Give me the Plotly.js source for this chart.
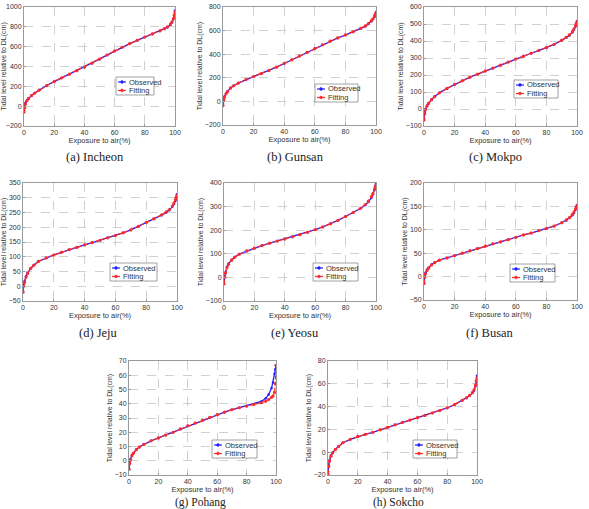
<!DOCTYPE html>
<html>
<head>
<meta charset="utf-8">
<script src="https://cdn.plot.ly/plotly-3.0.1.min.js"></script>
<style>
  html, body { margin: 0; padding: 0; background: #ffffff; }
  #chart { width: 589px; height: 509px; }
</style>
</head>
<body>
<div id="chart"></div>
<script>
// Exposure to air (%) shared by every station
const exposure = [0, 0.5, 1, 2, 3, 5, 7, 10, 15, 20, 25, 30, 35, 40, 45, 50, 55, 60, 65, 70, 75, 80, 85, 90, 93, 95, 97, 98, 99, 99.5, 100];

// Tidal level relative to DL (cm): observed and fitted curves per station
const obsIncheon = [-40, 5, 35, 62, 80, 108, 132, 162, 208, 248, 285, 322, 357, 393, 433, 474, 515, 556, 594, 630, 664, 697, 727, 757, 778, 795, 822, 843, 880, 915, 965];
const fitIncheon = [-60, -15, 22, 55, 76, 106, 130, 161, 207, 248, 286, 323, 358, 394, 434, 475, 516, 556, 594, 630, 664, 697, 728, 760, 782, 800, 828, 850, 885, 915, 950];

const obsGunsan = [-20, 20, 42, 68, 85, 115, 133, 155, 183, 210, 234, 260, 290, 321, 352, 384, 416, 448, 481, 512, 538, 562, 588, 616, 636, 656, 680, 696, 718, 735, 757];
const fitGunsan = [-35, 10, 36, 64, 83, 113, 132, 155, 184, 211, 235, 261, 290, 321, 352, 384, 416, 448, 480, 511, 538, 563, 590, 619, 640, 660, 684, 700, 722, 738, 750];

const obsMokpo = [-55, -20, 0, 20, 35, 57, 74, 95, 121, 144, 166, 187, 205, 223, 240, 258, 276, 294, 311, 328, 344, 360, 380, 403, 420, 433, 452, 466, 485, 500, 518];
const fitMokpo = [-65, -28, -5, 17, 33, 55, 73, 94, 121, 144, 166, 187, 205, 223, 241, 258, 276, 294, 311, 328, 344, 361, 381, 405, 422, 436, 455, 470, 490, 503, 512];

const obsJeju = [-15, 5, 17, 34, 45, 61, 72, 84, 96, 106, 115, 124, 132, 140, 148, 156, 164, 172, 181, 191, 203, 216, 228, 241, 250, 258, 270, 279, 290, 299, 312];
const fitJeju = [-20, 0, 13, 31, 43, 60, 71, 84, 96, 106, 115, 124, 132, 140, 148, 156, 164, 172, 181, 191, 203, 216, 229, 242, 252, 260, 272, 282, 294, 302, 308];

const obsYeosu = [-20, 5, 22, 45, 58, 74, 86, 99, 112, 124, 135, 145, 154, 163, 172, 181, 191, 202, 214, 227, 242, 258, 274, 293, 307, 320, 338, 352, 370, 382, 395];
const fitYeosu = [-28, 0, 18, 42, 56, 73, 85, 98, 112, 124, 135, 145, 154, 163, 172, 181, 191, 202, 214, 227, 242, 258, 275, 294, 309, 323, 342, 356, 374, 385, 390];

const obsBusan = [-12, 2, 8, 15, 19, 26, 30, 35, 40, 45, 50, 55, 60, 65, 70, 74, 79, 84, 89, 93, 98, 102, 108, 115, 120, 125, 131, 136, 143, 148, 153];
const fitBusan = [-15, -1, 6, 13, 18, 25, 30, 35, 40, 45, 50, 55, 60, 65, 70, 74, 79, 84, 89, 93, 98, 103, 108, 115, 121, 126, 133, 138, 145, 149, 151];

const obsPohang = [-5, -1, 1, 4, 5.5, 8, 9.7, 11.5, 14, 16, 18, 20, 22.3, 24.5, 26.5, 28.4, 30.4, 32.3, 34.1, 35.8, 37.2, 38.5, 39.8, 41.6, 43.8, 46.5, 51, 55, 61, 64, 67];
const fitPohang = [-6, -2, 0.5, 3.5, 5.2, 7.8, 9.6, 11.4, 14, 16, 18, 20, 22.3, 24.5, 26.5, 28.4, 30.4, 32.3, 34.1, 35.8, 37.2, 38.4, 39.5, 40.7, 41.8, 43, 44.5, 45.5, 48, 54, 67];

const obsSokcho = [-17, -11, -7, -3, -0.5, 2.6, 5, 8.3, 11.3, 13.8, 15.6, 17.4, 19.6, 21.8, 24, 26.2, 28.2, 30.3, 32.3, 34.4, 36.5, 38.8, 41.8, 45.3, 47.5, 49.5, 52, 54, 58, 62, 67];
const fitSokcho = [-19, -12.5, -8, -3.5, -0.8, 2.4, 5, 8.3, 11.3, 13.8, 15.6, 17.4, 19.6, 21.8, 24, 26.2, 28.2, 30.3, 32.3, 34.4, 36.6, 38.9, 41.9, 45.4, 47.7, 49.8, 52.5, 54.8, 59, 62.5, 65];

// Axis tick labels
const xTicks = [0, 20, 40, 60, 80, 100];
const yTicksIncheon = [-200, 0, 200, 400, 600, 800, 1000];
const yTicksGunsan = [-200, 0, 200, 400, 600, 800];
const yTicksMokpo = [-100, 0, 100, 200, 300, 400, 500, 600];
const yTicksJeju = [-50, 0, 50, 100, 150, 200, 250, 300, 350];
const yTicksYeosu = [-100, 0, 100, 200, 300, 400];
const yTicksBusan = [-50, 0, 50, 100, 150, 200];
const yTicksPohang = [-10, 0, 10, 20, 30, 40, 50, 60, 70];
const yTicksSokcho = [-20, 0, 20, 40, 60, 80];

// Panel captions and series names
const captions = ['(a) Incheon', '(b) Gunsan', '(c) Mokpo', '(d) Jeju', '(e) Yeosu', '(f) Busan', '(g) Pohang', '(h) Sokcho'];
const seriesNames = ['Observed', 'Fitting'];

// Page geometry (pixels): plot box [left, top, right, bottom], caption centre and size, legend top-left and width
const W = 589, H = 509;
const panels = [
  { obs: obsIncheon, fit: fitIncheon, ticks: yTicksIncheon, box: [24, 7, 175, 126],   cap: [95, 157, 12.5],  leg: [116, 77, 38] },
  { obs: obsGunsan,  fit: fitGunsan,  ticks: yTicksGunsan,  box: [223, 7, 376, 125],  cap: [295, 157, 12.5], leg: [315, 84, 43] },
  { obs: obsMokpo,   fit: fitMokpo,   ticks: yTicksMokpo,   box: [424, 7, 577, 126],  cap: [495, 157, 12.5], leg: [514, 80, 44] },
  { obs: obsJeju,    fit: fitJeju,    ticks: yTicksJeju,    box: [23, 183, 177, 301], cap: [98, 333, 12.5],  leg: [110, 263, 47] },
  { obs: obsYeosu,   fit: fitYeosu,   ticks: yTicksYeosu,   box: [224, 183, 376, 301],cap: [295, 333, 12.5], leg: [313, 263, 45] },
  { obs: obsBusan,   fit: fitBusan,   ticks: yTicksBusan,   box: [424, 183, 577, 300],cap: [490, 333, 12.5], leg: [510, 264, 45] },
  { obs: obsPohang,  fit: fitPohang,  ticks: yTicksPohang,  box: [129, 361, 276, 475],cap: [200, 502.5, 11.5], leg: [212, 440, 45] },
  { obs: obsSokcho,  fit: fitSokcho,  ticks: yTicksSokcho,  box: [328, 361, 477, 475],cap: [398, 502.5, 11.5], leg: [413, 440, 44] }
];

const px = p => p / W;
const py = p => 1 - p / H;

const BLUE = '#2020ff';
const RED = '#ff2a2a';
const SANS = 'Liberation Sans, Arial, sans-serif';
const SERIF = 'Liberation Serif, Times New Roman, serif';

const traces = [];
const shapes = [];
const annotations = [];
const layout = {
  width: W, height: H,
  margin: { l: 0, r: 0, t: 0, b: 0 },
  paper_bgcolor: '#ffffff',
  plot_bgcolor: '#ffffff',
  showlegend: false,
  font: { family: SANS, size: 7, color: '#333333' }
};

panels.forEach((p, i) => {
  const n = i === 0 ? '' : String(i + 1);
  const xa = 'x' + n, ya = 'y' + n;
  const [l, t, r, b] = p.box;

  const axisCommon = {
    showgrid: true, gridcolor: '#c4c4c4', griddash: 'dash', gridwidth: 0.8,
    showline: true, mirror: true, linecolor: '#9a9a9a', linewidth: 1,
    zeroline: false, ticks: 'inside', ticklen: 2, tickcolor: '#9a9a9a',
    tickfont: { family: SANS, size: 7, color: '#333333' },
    fixedrange: true
  };

  layout['xaxis' + n] = Object.assign({}, axisCommon, {
    domain: [px(l), px(r)], anchor: ya,
    range: [xTicks[0], xTicks[xTicks.length - 1]], tickmode: 'array', tickvals: xTicks,
    title: { text: 'Exposure to air(%)', font: { family: SANS, size: 7.5, color: '#333333' }, standoff: 0 }
  });
  layout['yaxis' + n] = Object.assign({}, axisCommon, {
    domain: [py(b), py(t)], anchor: xa,
    range: [p.ticks[0], p.ticks[p.ticks.length - 1]], tickmode: 'array', tickvals: p.ticks,
    title: { text: 'Tidal level relative to DL(cm)', font: { family: SANS, size: 7, color: '#333333' }, standoff: 1 }
  });

  traces.push({
    x: exposure, y: p.obs, name: seriesNames[0], xaxis: xa, yaxis: ya,
    type: 'scatter', mode: 'lines+markers',
    line: { color: BLUE, width: 1.3 },
    marker: { color: BLUE, size: 2.5 }
  });
  traces.push({
    x: exposure, y: p.fit, name: seriesNames[1], xaxis: xa, yaxis: ya,
    type: 'scatter', mode: 'lines+markers',
    line: { color: RED, width: 1.2, dash: '4px,2px' },
    marker: { color: RED, size: 3.2 }
  });

  // caption under the panel
  annotations.push({
    xref: 'paper', yref: 'paper', x: px(p.cap[0]), y: py(p.cap[1]),
    xanchor: 'center', yanchor: 'middle', showarrow: false,
    text: captions[i], font: { family: SERIF, size: p.cap[2], color: '#222222' }
  });

  // legend box inside the panel
  const [lx, ly, lw] = p.leg;
  const lh = 18;
  shapes.push({
    type: 'rect', xref: 'paper', yref: 'paper',
    x0: px(lx), x1: px(lx + lw), y0: py(ly + lh), y1: py(ly),
    line: { color: '#8a8a8a', width: 0.8 }, fillcolor: '#ffffff'
  });
  [BLUE, RED].forEach((c, k) => {
    const rowY = ly + 5 + k * 8.5;
    shapes.push({
      type: 'line', xref: 'paper', yref: 'paper',
      x0: px(lx + 2), x1: px(lx + 10), y0: py(rowY), y1: py(rowY),
      line: { color: c, width: 1.2 }
    });
    shapes.push({
      type: 'circle', xref: 'paper', yref: 'paper',
      x0: px(lx + 4.6), x1: px(lx + 7.4), y0: py(rowY + 1.4), y1: py(rowY - 1.4),
      line: { color: c, width: 0.5 }, fillcolor: c
    });
    annotations.push({
      xref: 'paper', yref: 'paper', x: px(lx + 10.5), y: py(rowY),
      xanchor: 'left', yanchor: 'middle', showarrow: false,
      text: seriesNames[k], font: { family: SANS, size: 7.5, color: '#333333' }
    });
  });
});

layout.shapes = shapes;
layout.annotations = annotations;

Plotly.newPlot('chart', traces, layout, { staticPlot: true, displayModeBar: false });
</script>
</body>
</html>
